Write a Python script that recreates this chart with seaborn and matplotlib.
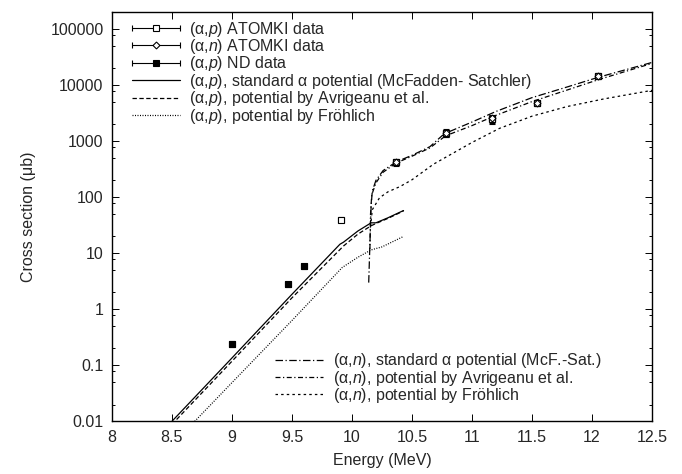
import matplotlib
matplotlib.use('Agg')
import matplotlib.pyplot as plt
import seaborn as sns
from matplotlib.ticker import LogLocator, FuncFormatter, MultipleLocator, NullFormatter
from matplotlib.container import ErrorbarContainer
from matplotlib.legend_handler import HandlerErrorbar

# measured points (energy in MeV, cross section in microbarn)
nd_E = [9.0, 9.47, 9.6]
nd_xs = [0.24, 2.8, 5.9]
nd_err = [0.03, 0.25, 0.6]

ap_E = [9.91, 10.37, 10.78, 11.17, 11.54, 12.05]
ap_xs = [40, 420, 1400, 2450, 4800, 14500]
ap_err = [4, 60, 220, 420, 600, 1800]

an_E = [10.37, 10.78, 11.17, 11.54, 12.05]
an_xs = [430, 1420, 2550, 4900, 14800]
an_err = [60, 220, 420, 600, 1800]

E_err = 0.025

# statistical model curves, (a,p)
ap_std_E = [8.5, 9.0, 9.5, 9.9, 9.93, 10.05, 10.16, 10.2, 10.3, 10.43]
ap_std_xs = [0.01, 0.135, 1.85, 14.5, 15.8, 25, 35, 35, 43, 58]
ap_avr_E = [8.5, 9.0, 9.5, 9.93, 10.05, 10.16, 10.2, 10.3, 10.43]
ap_avr_xs = [0.0088, 0.118, 1.6, 13.5, 22, 31, 34, 42, 57]
ap_fro_E = [8.69, 9.0, 9.5, 9.92, 10.05, 10.16, 10.25, 10.43]
ap_fro_xs = [0.01, 0.049, 0.63, 5.6, 8.5, 11.5, 13, 20]

# (a,n)
an_std_E = [10.14, 10.15, 10.16, 10.17, 10.2, 10.26, 10.37, 10.5, 10.65, 10.75,
            10.8, 11.0, 11.2, 11.5, 11.8, 12.05, 12.5]
an_std_xs = [3, 15, 70, 130, 200, 300, 430, 560, 800, 1250,
             1450, 2200, 3400, 6000, 9400, 13800, 25500]
an_avr_E = [10.15, 10.155, 10.165, 10.2, 10.26, 10.37, 10.5, 10.65, 10.78,
            11.0, 11.2, 11.5, 11.8, 12.05, 12.5]
an_avr_xs = [12, 50, 110, 180, 280, 410, 540, 760, 1250,
             1900, 2900, 5100, 8300, 12500, 24500]
an_fro_E = [10.155, 10.17, 10.23, 10.3, 10.4, 10.5, 10.68, 11.0, 11.23, 11.5,
            11.79, 12.1, 12.5]
an_fro_xs = [30, 60, 98, 125, 155, 205, 390, 950, 1700, 2800,
             4150, 5700, 8100]

sns.set_style("ticks")
plt.rcParams['font.family'] = ['Liberation Sans', 'DejaVu Sans']
plt.rcParams['mathtext.fontset'] = 'custom'
plt.rcParams['mathtext.rm'] = 'Liberation Sans'
plt.rcParams['mathtext.it'] = 'Liberation Sans:italic'
plt.rcParams['font.size'] = 11.5
plt.rcParams['axes.edgecolor'] = 'black'

fig, ax = plt.subplots(figsize=(6.82, 4.74), dpi=100)
fig.subplots_adjust(left=0.164, right=0.956, bottom=0.111, top=0.974)

lw = 0.9
curves = [
    (ap_std_E, ap_std_xs, None, r'(α,$p$), standard α potential (McFadden- Satchler)'),
    (ap_avr_E, ap_avr_xs, (3.5, 2), r'(α,$p$), potential by Avrigeanu et al.'),
    (ap_fro_E, ap_fro_xs, (0.8, 1.2), r'(α,$p$), potential by Fröhlich'),
    (an_std_E, an_std_xs, (6, 2, 1, 2), r'(α,$n$), standard α potential (McF.-Sat.)'),
    (an_avr_E, an_avr_xs, (4, 2, 1, 2), r'(α,$n$), potential by Avrigeanu et al.'),
    (an_fro_E, an_fro_xs, (2, 2.5), r'(α,$n$), potential by Fröhlich'),
]
line_handles = []
for E, xs, dash, lab in curves:
    sns.lineplot(x=E, y=xs, ax=ax, color='black', linewidth=lw, sort=False,
                 estimator=None, label=lab, legend=False)
    ln = ax.lines[-1]
    if dash is not None:
        ln.set_dashes(dash)
    line_handles.append(ln)

err_kw = dict(ecolor='black', elinewidth=0.8, capsize=2, capthick=0.8,
              mec='black', mew=0.8, zorder=5, linestyle='none')
c_ap = ax.errorbar(ap_E, ap_xs, xerr=E_err, yerr=ap_err, fmt='s', ms=4.5,
                   mfc='white', **err_kw)
c_an = ax.errorbar(an_E, an_xs, xerr=E_err, yerr=an_err, fmt='D', ms=3.5,
                   mfc='white', **err_kw)
c_nd = ax.errorbar(nd_E, nd_xs, xerr=E_err, yerr=nd_err, fmt='s', ms=5,
                   mfc='black', **err_kw)

def xerr_handle(c, label):
    return ErrorbarContainer((c.lines[0], c.lines[1], c.lines[2]),
                             has_xerr=True, has_yerr=False, label=label)

pt_handles = [xerr_handle(c_ap, r'(α,$p$) ATOMKI data'),
              xerr_handle(c_an, r'(α,$n$) ATOMKI data'),
              xerr_handle(c_nd, r'(α,$p$) ND data')]

ax.set_yscale('log')
ax.set_xlim(8, 12.5)
ax.set_ylim(0.01, 2e5)
ax.yaxis.set_major_locator(LogLocator(base=10, numticks=20))
ax.yaxis.set_minor_locator(LogLocator(base=10, subs=(2, 5, 8), numticks=20))
ax.yaxis.set_major_formatter(FuncFormatter(lambda v, _: f'{v:g}'))
ax.yaxis.set_minor_formatter(NullFormatter())
ax.xaxis.set_major_locator(MultipleLocator(0.5))
ax.xaxis.set_major_formatter(FuncFormatter(lambda v, _: f'{v:g}'))
ax.tick_params(which='both', direction='in', top=True, right=True,
               color='black', width=0.7, pad=6)
ax.tick_params(which='major', length=5)
ax.tick_params(which='minor', length=2.5)
for s in ax.spines.values():
    s.set_linewidth(1.0)

ax.set_xlabel('Energy (MeV)', labelpad=6)
ax.set_ylabel('Cross section (μb)', labelpad=10)

hmap = {ErrorbarContainer: HandlerErrorbar(xerr_size=1.5)}
leg1 = ax.legend(handles=pt_handles + line_handles[:3], loc='upper left',
                 bbox_to_anchor=(0.037, 0.982), frameon=False, borderpad=0,
                 borderaxespad=0, handlelength=3.0, handletextpad=0.6,
                 labelspacing=-0.1, handler_map=hmap)
ax.add_artist(leg1)
ax.legend(handles=line_handles[3:], loc='lower right',
          bbox_to_anchor=(0.906, 0.04), frameon=False, borderpad=0,
          borderaxespad=0, handlelength=3.0, handletextpad=0.6,
          labelspacing=-0.1)

fig.savefig('out.png', dpi=100)
